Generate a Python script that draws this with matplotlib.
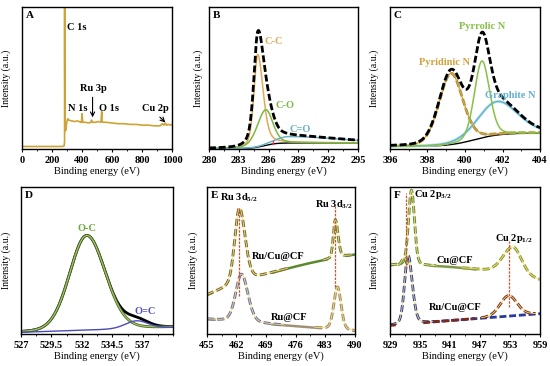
# ----------------------------------------------------------------------
#   Imports
# ----------------------------------------------------------------------

import numpy as np
import matplotlib
matplotlib.use('Agg')
import matplotlib.pyplot as plt

matplotlib.rc('font', family='serif', serif=['Liberation Serif'], weight='bold', size=7.5)
matplotlib.rc('mathtext', fontset='custom', rm='Liberation Serif:bold',
              it='Liberation Serif:bold', bf='Liberation Serif:bold')

# ----------------------------------------------------------------------
#   Data (intensities in axis units, 0..1)
# ----------------------------------------------------------------------

# A - survey, traced points
survey_x = [0, 270, 281, 283.5, 284, 284.5, 286, 289, 293, 298, 305, 312, 330, 350,
            370, 390, 396, 400, 404, 420, 445, 458, 463, 468, 490, 510, 526, 531,
            533, 538, 560, 600, 640, 680, 720, 760, 800, 840, 880, 920, 935, 945,
            955, 962, 975, 990, 1000]
survey_y = [0.02, 0.02, 0.025, 0.06, 1.05, 0.6, 0.2, 0.13, 0.14, 0.19, 0.215, 0.205,
            0.2, 0.195, 0.2, 0.19, 0.19, 0.25, 0.19, 0.19, 0.185, 0.19, 0.205, 0.19,
            0.19, 0.195, 0.19, 0.265, 0.2, 0.19, 0.19, 0.185, 0.18, 0.18, 0.175,
            0.175, 0.17, 0.17, 0.165, 0.165, 0.18, 0.17, 0.185, 0.17, 0.175, 0.17,
            0.175]

# B - C 1s: [center, height, fwhm left, fwhm right, lorentz fraction]
B_names = ['C-C', 'C-O', 'C=O']
B_peaks = [[284.9, 0.65, 0.9, 1.3, 0.4],
           [285.7, 0.25, 2.0, 1.7, 0.3],
           [288.0, 0.045, 3.0, 12.0, 0.3]]
B_bg = [0.005, 0.045, 285.5, 0.6]      # low, high, step centre, step width

# C - N 1s
C_names = ['Pyridinic N', 'Pyrrolic N', 'Graphite N']
C_peaks = [[399.25, 0.50, 1.5, 1.5, 0.2],
           [400.9, 0.54, 0.95, 0.95, 0.2],
           [401.7, 0.235, 2.4, 2.6, 0.2]]
C_bg = [0.02, 0.115, 400.5, 0.7]

# D - O 1s
D_names = ['O-C', 'O=C']
D_peaks = [[532.4, 0.645, 3.3, 3.6, 0.1],
           [536.5, 0.052, 2.2, 2.2, 0.1]]
D_bg = [0.01, 0.045]                   # linear, start / end

# E - Ru 3d
E_top_peaks = [[462.7, 0.51, 2.6, 3.2, 0.2],
               [485.4, 0.26, 1.1, 1.5, 0.2]]
E_top_bg = [0.264, 0.54, 0.03]         # start, end, bow
E_bot_peaks = [[463.2, 0.325, 3.2, 3.6, 0.2],
               [485.9, 0.29, 2.0, 2.0, 0.2]]
E_bot_bg = [0.10, 0.02, 0.0]
E_vlines = [[462.7, 0.26, 0.86], [485.3, 0.32, 0.87]]

# F - Cu 2p
F_top_peaks = [[933.3, 0.51, 1.4, 1.4, 0.2],
               [931.8, 0.05, 1.0, 1.0, 0.2],
               [953.6, 0.19, 4.8, 4.0, 0.2]]
F_top_bg = [0.468, 0.365, 0.03]
F_bot_peaks = [[932.6, 0.47, 1.6, 2.0, 0.2],
               [952.7, 0.14, 4.0, 4.0, 0.2]]
F_bot_bg = [0.057, 0.137, 0.0]
F_vlines = [[932.2, 0.44, 0.96], [952.7, 0.18, 0.63]]

xlabel = 'Binding energy (eV)'
ylabel = 'Intensity (a.u.)'

# ----------------------------------------------------------------------
#   Helpers
# ----------------------------------------------------------------------

def peak(x, p):
    c, h, wl, wr, eta = p
    w = np.where(x < c, wl, wr) / 2.
    u = (x - c) / w
    g = np.exp(-np.log(2.) * u**2)
    l = 1. / (1. + u**2)
    return h * ((1 - eta) * g + eta * l)

def step_bg(x, b):
    lo, hi, c, w = b
    return lo + (hi - lo) / (1. + np.exp(-(x - c) / w))

def lin_bg(x, b, x0, x1):
    a, e, bow = b
    t = (x - x0) / (x1 - x0)
    return a + (e - a) * t + bow * 4 * t * (1 - t)

def style_axes(ax, xlim, ticks, minor, ypad, letter):
    ax.set_xlim(xlim)
    ax.set_ylim(0, 1)
    ax.set_xticks(ticks)
    ax.set_xticklabels(['%g' % t for t in ticks])
    ax.set_xticks(np.arange(xlim[0], xlim[1] + 1e-6, minor), minor=True)
    ax.set_yticks([])
    ax.tick_params(axis='x', which='major', direction='out', length=2.5, width=0.8, pad=2.5)
    ax.tick_params(axis='x', which='minor', direction='out', length=1.5, width=0.6)
    for s in ax.spines.values():
        s.set_linewidth(1.0)
    ax.set_xlabel(xlabel, labelpad=1)
    ax.set_ylabel(ylabel, labelpad=ypad, fontsize=7)
    ax.text(0.025, 0.975, letter, transform=ax.transAxes, ha='left', va='top', fontsize=8)

DASH = (0, (2.5, 1.0))
FIT = '#f3e27a'

# ----------------------------------------------------------------------
#   Panels
# ----------------------------------------------------------------------

def panel_a(ax):
    ax.plot(survey_x, survey_y, color='#cfa236', lw=1.2)
    style_axes(ax, (0, 1000), [0, 200, 400, 600, 800, 1000], 100, 8, 'A')
    ax.text(300, 0.853, 'C 1s', ha='left', va='center')
    ax.text(373, 0.29, 'N 1s', ha='center', va='center')
    ax.text(473, 0.43, 'Ru 3p', ha='center', va='center')
    ax.text(580, 0.29, 'O 1s', ha='center', va='center')
    ax.text(887, 0.29, 'Cu 2p', ha='center', va='center')
    ax.annotate('', xy=(470, 0.205), xytext=(470, 0.385),
                arrowprops=dict(arrowstyle='->', lw=0.8, color='k'))
    ax.annotate('', xy=(968, 0.175), xytext=(905, 0.24),
                arrowprops=dict(arrowstyle='->', lw=0.8, color='k'))

def panel_b(ax):
    x = np.linspace(280, 295, 600)
    bg = step_bg(x, B_bg)
    comps = [peak(x, p) for p in B_peaks]
    env = bg + sum(comps)
    cols = ['#e3a955', '#7db843', '#6ab2c6']
    ax.plot(x, bg, color='k', lw=1.0)
    for c, col in zip(comps, cols):
        ax.plot(x, bg + c, color=col, lw=1.1)
    ax.plot(x, env, color='k', lw=2.0, ls=DASH)
    ax.plot([286.4, 286.4], [0.035, 0.06], color='#ff3050', lw=1.0)
    style_axes(ax, (280, 295), [280, 283, 286, 289, 292, 295], 1.5, 4, 'B')
    ax.text(285.6, 0.757, 'C-C', color=cols[0], ha='left', va='center')
    ax.text(286.7, 0.31, 'C-O', color=cols[1], ha='left', va='center')
    ax.text(288.1, 0.14, 'C=O', color=cols[2], ha='left', va='center')

def panel_c(ax):
    x = np.linspace(396, 404, 600)
    bg = step_bg(x, C_bg)
    comps = [peak(x, p) for p in C_peaks]
    env = bg + sum(comps)
    cols = ['#d3a23e', '#86c046', '#62afcf']
    ax.plot(x, bg, color='k', lw=1.0)
    ax.plot(x, bg + comps[2], color='#bfe8f0', lw=2.2)
    ax.plot(x, bg + comps[2], color=cols[2], lw=1.0)
    ax.plot(x, bg + comps[0], color='#a08a3c', lw=2.0, ls=DASH)
    ax.plot(x, bg + comps[0], color=cols[0], lw=1.0)
    ax.plot(x, bg + comps[1], color=cols[1], lw=1.1)
    ax.plot(x, env, color='k', lw=2.0, ls=DASH)
    style_axes(ax, (396, 404), [396, 398, 400, 402, 404], 1, 8, 'C')
    ax.text(398.9, 0.61, C_names[0], color=cols[0], ha='center', va='center')
    ax.text(400.9, 0.866, C_names[1], color=cols[1], ha='center', va='center')
    ax.text(402.4, 0.38, C_names[2], color=cols[2], ha='center', va='center')

def panel_d(ax):
    x = np.linspace(527, 539.5, 600)
    bg = lin_bg(x, [D_bg[0], D_bg[1], 0.0], 527, 539.5)
    comps = [peak(x, p) for p in D_peaks]
    env = bg + sum(comps)
    ax.plot(x, env, color='k', lw=2.0)
    ax.plot(x, bg + comps[0], color='#556b2f', lw=2.0)
    ax.plot(x, bg + comps[0], color='#a9d46a', lw=0.7)
    ax.plot(x, bg + comps[1], color='#4a4ab8', lw=1.0)
    style_axes(ax, (527, 539.5), [527, 529.5, 532, 534.5, 537], 1.25, 7, 'D')
    ax.text(532.45, 0.72, D_names[0], color='#6aaa3a', ha='center', va='center')
    ax.text(537.2, 0.15, D_names[1], color='#5050c0', ha='center', va='center')

def draw_spectrum(ax, x, bg, peaks, peak_cols, base_col):
    comps = [peak(x, p) for p in peaks]
    total = sum(comps)
    ax.plot(x, np.where(total < 0.004, bg, np.nan), color=base_col, lw=1.8)
    for c, col in zip(comps, peak_cols):
        y = np.where(c > 0.002, bg + c, np.nan)
        ax.plot(x, y, color=col, lw=2.1, ls=DASH)
        ax.plot(x, y, color=FIT, lw=0.6)

def panel_e(ax):
    x = np.linspace(455, 490, 700)
    bot = lin_bg(x, E_bot_bg, 455, 490)
    draw_spectrum(ax, x, bot, E_bot_peaks, ['#6f70a8', '#a38c6c'], '#a09274')
    top = lin_bg(x, E_top_bg, 455, 490)
    draw_spectrum(ax, x, top, E_top_peaks, ['#7d6b32', '#6d7a35'], '#5b8a2e')
    for xv, y0, y1 in E_vlines:
        ax.plot([xv, xv], [y0, y1], color='#d2532b', lw=0.9, ls=(0, (2, 1)))
    style_axes(ax, (455, 490), [455, 462, 469, 476, 483, 490], 3.5, 6, 'E')
    ax.text(462.6, 0.925, 'Ru 3d$_{5/2}$', ha='center', va='center')
    ax.text(485.2, 0.88, 'Ru 3d$_{3/2}$', ha='center', va='center')
    ax.text(471.9, 0.526, 'Ru/Cu@CF', ha='center', va='center')
    ax.text(474.5, 0.113, 'Ru@CF', ha='center', va='center')

def panel_f(ax):
    x = np.linspace(929, 959, 700)
    bot = lin_bg(x, F_bot_bg, 929, 959)
    comps = [peak(x, p) for p in F_bot_peaks]
    blue = bot + comps[0]
    ax.plot(x, blue, color='#2b3a9a', lw=2.0, ls=DASH)
    ax.plot(x, np.where(comps[0] > 0.003, blue, np.nan), color=FIT, lw=0.6)
    brown = np.where((x < 946) | (comps[1] > 0.004), bot + comps[1], np.nan)
    brown = np.where(comps[0] > 0.01, np.nan, brown)
    ax.plot(x, brown, color='#7b2a1a', lw=2.0, ls=DASH)
    ax.plot(x, np.where(comps[1] > 0.004, bot + comps[1], np.nan), color=FIT, lw=0.6)
    top = lin_bg(x, F_top_bg, 929, 959)
    draw_spectrum(ax, x, top, F_top_peaks, ['#6e8b3d', '#6e8b3d', '#8a9a30'], '#7e9a45')
    for xv, y0, y1 in F_vlines:
        ax.plot([xv, xv], [y0, y1], color='#d2532b', lw=0.9, ls=(0, (2, 1)))
    style_axes(ax, (929, 959), [929, 935, 941, 947, 953, 959], 3, 8, 'F')
    ax.text(933.9, 0.947, 'Cu 2p$_{3/2}$', ha='left', va='center')
    ax.text(953.8, 0.65, 'Cu 2p$_{1/2}$', ha='center', va='center')
    ax.text(942.0, 0.502, 'Cu@CF', ha='center', va='center')
    ax.text(942.1, 0.176, 'Ru/Cu@CF', ha='center', va='center')

# ----------------------------------------------------------------------
#   Main
# ----------------------------------------------------------------------

def main():
    fig = plt.figure(figsize=(5.5, 3.66), dpi=100)

    rows = [(0.592, 0.981), (0.088, 0.489)]
    cols = [[(0.040, 0.313), (0.380, 0.651), (0.709, 0.982)],
            [(0.038, 0.315), (0.376, 0.645), (0.709, 0.982)]]
    funcs = [[panel_a, panel_b, panel_c], [panel_d, panel_e, panel_f]]

    for r in range(2):
        b, t = rows[r]
        for c in range(3):
            l, rt = cols[r][c]
            ax = fig.add_axes([l, b, rt - l, t - b])
            funcs[r][c](ax)

    fig.savefig('out.png', dpi=100)
    plt.close()

if __name__ == '__main__':
    main()
